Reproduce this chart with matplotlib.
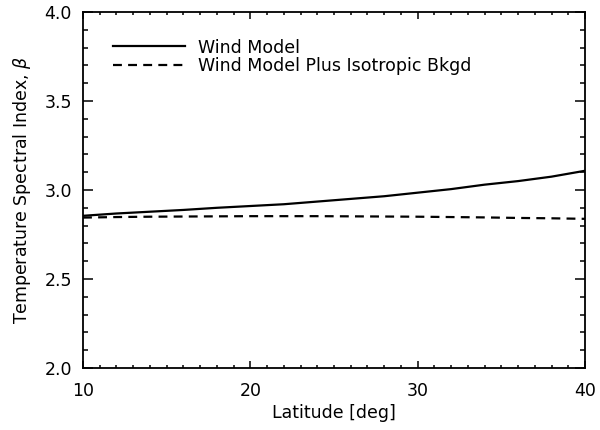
import matplotlib
matplotlib.use("Agg")
import matplotlib.pyplot as plt
from matplotlib.ticker import MultipleLocator

# latitude grid and spectral index curves
latitude = [10, 12, 14, 16, 18, 20, 22, 24, 26, 28, 30, 32, 34, 36, 38, 40]
beta_wind = [2.855, 2.868, 2.878, 2.888, 2.900, 2.910, 2.920, 2.935,
             2.950, 2.965, 2.985, 3.005, 3.030, 3.050, 3.075, 3.108]
beta_wind_bkgd = [2.845, 2.848, 2.850, 2.851, 2.852, 2.853, 2.853, 2.853,
                  2.852, 2.851, 2.850, 2.848, 2.846, 2.843, 2.841, 2.838]

plt.rcParams["font.family"] = "DejaVu Sans"

fig = plt.figure(figsize=(6.0, 4.3), dpi=100)
ax = fig.add_axes([83 / 600, 1 - 368 / 430, 502 / 600, 356 / 430])

ax.plot(latitude, beta_wind, color="black", lw=1.6, label="Wind Model")
ax.plot(latitude, beta_wind_bkgd, color="black", lw=1.6, ls=(0, (4, 2.8)),
        label="Wind Model Plus Isotropic Bkgd")

ax.set_xlim(10, 40)
ax.set_ylim(2.0, 4.0)
ax.xaxis.set_major_locator(MultipleLocator(10))
ax.xaxis.set_minor_locator(MultipleLocator(1))
ax.yaxis.set_major_locator(MultipleLocator(0.5))
ax.yaxis.set_minor_locator(MultipleLocator(0.1))
ax.tick_params(which="both", direction="in", top=True, right=True,
               width=1.1, labelsize=12.5)
# IDL style: tick length scales with the plot size
ax.tick_params(axis="x", which="major", length=5, pad=10)
ax.tick_params(axis="x", which="minor", length=2.5)
ax.tick_params(axis="y", which="major", length=7.2, pad=8)
ax.tick_params(axis="y", which="minor", length=3.6)
for s in ax.spines.values():
    s.set_linewidth(1.3)

ax.set_xlabel("Latitude [deg]", fontsize=12.5, labelpad=3)
ax.set_ylabel(r"Temperature Spectral Index, $\beta$", fontsize=12.5, labelpad=8)

ax.legend(loc="upper left", frameon=False, fontsize=12.5, handlelength=4.2,
          handletextpad=0.7, labelspacing=0.05, borderaxespad=0.0,
          bbox_to_anchor=(0.045, 0.945))

fig.savefig("out.png", dpi=100)
